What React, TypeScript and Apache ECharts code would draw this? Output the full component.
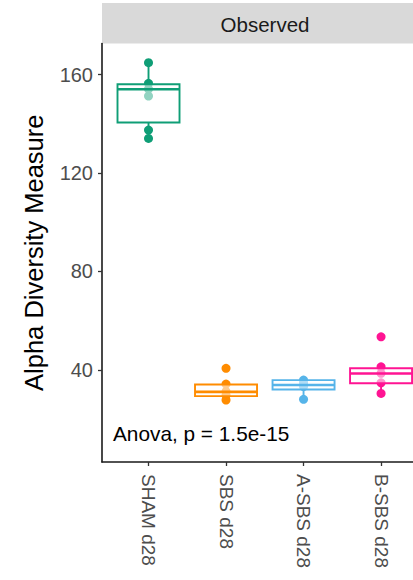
import React, { useEffect, useRef } from "react";
import * as echarts from "echarts";

const categories = ["SHAM d28", "SBS d28", "A-SBS d28", "B-SBS d28"];
const groupColors = ["#0F9E76", "#FF8C00", "#56B4E9", "#FF1493"];

// box statistics per group: lower whisker, Q1, median, Q3, upper whisker
const boxLow = [134.1, 27.7, 28.0, 30.4];
const boxQ1 = [140.6, 29.3, 32.0, 34.5];
const boxMedian = [154.1, 31.0, 33.8, 38.5];
const boxQ3 = [156.1, 34.0, 35.8, 40.6];
const boxHigh = [164.9, 34.2, 35.8, 41.2];

// observed sample points per group
const shamPoints = [164.9, 156.5, 154.2, 151.3, 137.5, 134.1];
const sbsPoints = [40.6, 34.2, 31.2, 29.6, 27.7];
const asbsPoints = [35.8, 34.5, 33.2, 28.0];
const bsbsPoints = [53.4, 41.2, 38.6, 34.7, 30.4];
const groupPoints = [shamPoints, sbsPoints, asbsPoints, bsbsPoints];

const yTicks = [40, 80, 120, 160];
const facetTitle = "Observed";
const yTitle = "Alpha Diversity Measure";
const testLabel = "Anova, p = 1.5e-15";

const FONT = "'Liberation Sans', Arial, Helvetica, sans-serif";

export default function App() {
  const ref = useRef<HTMLDivElement>(null);

  useEffect(() => {
    if (!ref.current) return;
    const chart = echarts.init(ref.current, null, { renderer: "svg" });

    const boxData = categories.map((_, i) => [
      i + 1,
      boxLow[i],
      boxQ1[i],
      boxMedian[i],
      boxQ3[i],
      boxHigh[i],
    ]);

    const scatterSeries = groupPoints.map((pts, gi) => ({
      type: "scatter",
      name: categories[gi],
      data: pts.map((v) => [gi + 1, v]),
      symbolSize: 9,
      itemStyle: { color: groupColors[gi], opacity: 1 },
      z: 2,
    }));

    const boxSeries = {
      type: "custom",
      data: boxData,
      z: 3,
      renderItem: (params: any, api: any) => {
        const x = api.value(0);
        const gi = Math.round(x) - 1;
        const color = groupColors[gi];
        const low = api.coord([x, api.value(1)]);
        const q1 = api.coord([x, api.value(2)]);
        const med = api.coord([x, api.value(3)]);
        const q3 = api.coord([x, api.value(4)]);
        const high = api.coord([x, api.value(5)]);
        const halfW = api.size([0.8, 0])[0] / 2;
        const cx = q1[0];
        const lw = 1.9;
        return {
          type: "group",
          children: [
            {
              type: "line",
              shape: { x1: cx, y1: low[1], x2: cx, y2: q1[1] },
              style: { stroke: color, lineWidth: lw },
            },
            {
              type: "line",
              shape: { x1: cx, y1: q3[1], x2: cx, y2: high[1] },
              style: { stroke: color, lineWidth: lw },
            },
            {
              type: "rect",
              shape: {
                x: cx - halfW,
                y: q3[1],
                width: halfW * 2,
                height: q1[1] - q3[1],
              },
              style: {
                fill: "rgba(255,255,255,0.55)",
                stroke: color,
                lineWidth: lw,
              },
            },
            {
              type: "line",
              shape: { x1: cx - halfW, y1: med[1], x2: cx + halfW, y2: med[1] },
              style: { stroke: color, lineWidth: 2.6 },
            },
          ],
        };
      },
    };

    const option: any = {
      animation: false,
      textStyle: { fontFamily: FONT },
      grid: { left: 102, right: 0, top: 43.5, bottom: 118 },
      xAxis: {
        type: "value",
        min: 0.4,
        max: 4.412,
        axisLine: { show: true, onZero: false, lineStyle: { color: "#1a1a1a", width: 1.6 } },
        axisTick: {
          show: true,
          length: 4,
          customValues: [1, 2, 3, 4],
          lineStyle: { color: "#333", width: 1.3 },
        },
        axisLabel: {
          customValues: [1, 2, 3, 4],
          rotate: -90,
          margin: 12,
          fontSize: 19,
          color: "#4d4d4d",
          fontFamily: FONT,
          formatter: (v: number) => categories[Math.round(v) - 1] ?? "",
        },
        splitLine: { show: false },
      },
      yAxis: {
        type: "value",
        min: 2.5,
        max: 172.7,
        name: yTitle,
        nameLocation: "middle",
        nameGap: 55,
        nameTextStyle: { fontSize: 25.5, color: "#000", fontFamily: FONT },
        axisLine: { show: true, onZero: false, lineStyle: { color: "#1a1a1a", width: 1.6 } },
        axisTick: {
          show: true,
          length: 4,
          customValues: yTicks,
          lineStyle: { color: "#333", width: 1.3 },
        },
        axisLabel: {
          customValues: yTicks,
          margin: 9,
          fontSize: 20,
          color: "#4d4d4d",
          fontFamily: FONT,
        },
        splitLine: { show: false },
      },
      graphic: [
        {
          type: "rect",
          left: 102,
          top: 3,
          shape: { width: 330, height: 40.5 },
          style: { fill: "#d9d9d9" },
          silent: true,
        },
        {
          type: "text",
          x: 265,
          y: 24,
          style: {
            text: facetTitle,
            fontSize: 20.5,
            fill: "#1a1a1a",
            fontFamily: FONT,
            align: "center",
            verticalAlign: "middle",
          },
        },
        {
          type: "text",
          x: 113,
          y: 433,
          style: {
            text: testLabel,
            fontSize: 20.8,
            fill: "#000",
            fontFamily: FONT,
            align: "left",
            verticalAlign: "middle",
          },
        },
      ],
      series: [...scatterSeries, boxSeries],
    };

    chart.setOption(option);
    return () => chart.dispose();
  }, []);

  return (
    <div
      ref={ref}
      style={{ position: "fixed", left: 0, top: 0, width: 413, height: 580, background: "#fff" }}
    />
  );
}
